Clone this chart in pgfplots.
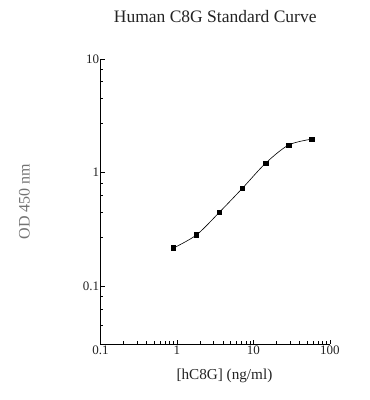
\documentclass[border=0pt]{standalone}
\usepackage{fontspec}
\setmainfont{Liberation Serif}
\usepackage{pgfplots}
\pgfplotsset{compat=1.18}
\definecolor{txt}{RGB}{35,35,35}
\begin{document}
\begin{tikzpicture}[x=1pt,y=1pt]
\useasboundingbox (0,0) rectangle (370,400);
\begin{axis}[
  at={(100.5pt,56pt)}, anchor=south west,
  scale only axis, width=229.5pt, height=285pt,
  xmode=log, ymode=log,
  xmin=0.1, xmax=100, ymin=0.031, ymax=10,
  axis lines=left, axis line style={-, black, line width=0.9pt},
  tick align=inside,
  major tick length=4.5pt, minor tick length=3pt,
  every tick/.style={black, line width=0.7pt},
  xtick={0.1,1,10,100}, xticklabels={0.1,1,10,100},
  minor xtick={0.2,0.3,0.4,0.5,0.6,0.7,0.8,0.9,2,3,4,5,6,7,8,9,20,30,40,50,60,70,80,90},
  ytick={0.1,1,10}, yticklabels={0.1,1,10},
  minor ytick={0.045,0.063,0.081,0.27,0.45,0.63,0.81,2.7,4.5,6.3,8.1},
  /pgf/number format/assume math mode=true,
  tick label style={font=\fontsize{13}{14}\selectfont, text=txt},
  yticklabel style={inner sep=1.2pt},
  xticklabel style={inner sep=2pt},
  title={Human C8G Standard Curve},
  title style={at={(axis description cs:0.5,1)}, anchor=base, yshift=31pt, font=\fontsize{17.5}{19}\selectfont, text=txt},
  xlabel={[hC8G] (ng/ml)},
  xlabel style={at={(axis description cs:0.54,0)}, anchor=base, yshift=-35pt, font=\fontsize{15.2}{17}\selectfont, text=txt},
  ylabel={OD 450 nm},
  ylabel style={at={(axis description cs:0,0.5)}, anchor=center, yshift=76pt, font=\fontsize{16}{18}\selectfont, text=black!55},
]
\addplot[black, line width=0.6pt, smooth, mark=square*, mark size=2.2pt, mark options={solid}]
coordinates {(0.9,0.217) (1.8,0.283) (3.6,0.449) (7.2,0.731) (14.4,1.21) (28.8,1.75) (57.6,1.97)};
\end{axis}
\end{tikzpicture}
\end{document}
